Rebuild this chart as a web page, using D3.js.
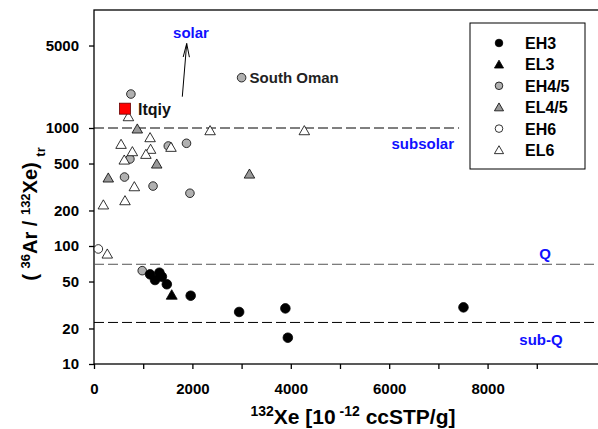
<!DOCTYPE html>
<html>
<head>
<script src="https://cdn.jsdelivr.net/npm/d3@7"></script>
<style>
  body { margin: 0; background: #fff; }
  svg { font-family: "Liberation Sans", Arial, sans-serif; font-weight: bold; }
  .axis path, .axis line { stroke: #000; stroke-width: 1.3; }
  .axis text { font-size: 15px; font-weight: bold; fill: #000; }
</style>
</head>
<body>
<svg width="598" height="429"></svg>
<script>
// data: [132Xe, (36Ar/132Xe)tr]
var eh3 = [[1140, 57.5], [1240, 51.5], [1330, 59.4], [1380, 54.9], [1480, 47.4],
           [1965, 37.9], [2950, 27.6], [3890, 29.6], [3940, 16.7], [7510, 30.2]];
var el3 = [[1580, 38.4]];
var eh45 = [[980, 61.8], [750, 1940], [730, 546], [1510, 704], [1880, 742],
            [620, 384], [1200, 322], [1950, 280]];
var southOman = [3000, 2670];
var el45 = [[880, 981], [1275, 495], [290, 377], [3160, 407]];
var eh6 = [[88, 94.4]];
var el6 = [[700, 1247], [1140, 828], [2360, 949], [4275, 949], [550, 727], [780, 630],
           [1150, 660], [615, 535], [1055, 598], [1565, 686], [820, 318], [630, 242],
           [190, 223], [270, 85.5]];
var itqiy = [630, 1458];

var refLines = [{ name: "subsolar", value: 1000, xEnd: 7420 },
                { name: "Q", value: 70, xEnd: 10300 },
                { name: "sub-Q", value: 22.5, xEnd: 10300 }];

var xTicks = d3.range(0, 10000, 1000);
var yTicks = [10, 20, 50, 100, 200, 500, 1000, 5000];

var legendItems = [
  { label: "EH3", shape: "circle", fill: "#000" },
  { label: "EL3", shape: "triangle", fill: "#000" },
  { label: "EH4/5", shape: "circle", fill: "#b0b0b0" },
  { label: "EL4/5", shape: "triangle", fill: "#999" },
  { label: "EH6", shape: "circle", fill: "#fff" },
  { label: "EL6", shape: "triangle", fill: "#fff" }
];

var svg = d3.select("svg");
var mLeft = 94, mTop = 10, mRight = 600, mBottom = 364;

var x = d3.scaleLinear().domain([0, 10285]).range([mLeft, mRight]);
var y = d3.scaleLog().domain([10, 10000]).range([mBottom, mTop]);

// frame
svg.append("rect")
  .attr("x", mLeft).attr("y", mTop)
  .attr("width", mRight - mLeft).attr("height", mBottom - mTop)
  .attr("fill", "none").attr("stroke", "#000").attr("stroke-width", 1.3);

svg.append("g").attr("class", "axis")
  .attr("transform", "translate(0," + mBottom + ")")
  .call(d3.axisBottom(x).tickValues(xTicks).tickSize(5).tickPadding(14)
    .tickFormat(function(d) { return d % 2000 === 0 ? d : ""; }))
  .call(function(g) { g.select(".domain").remove(); });

svg.append("g").attr("class", "axis")
  .attr("transform", "translate(" + mLeft + ",0)")
  .call(d3.axisLeft(y).tickValues(yTicks).tickSize(5).tickPadding(10)
    .tickFormat(d3.format("d")))
  .call(function(g) { g.select(".domain").remove(); });

// reference lines
svg.selectAll(".ref").data(refLines).enter().append("line")
  .attr("x1", x(0)).attr("x2", function(d) { return x(d.xEnd); })
  .attr("y1", function(d) { return y(d.value); })
  .attr("y2", function(d) { return y(d.value); })
  .attr("stroke", function(d) { return d.name === "Q" ? "#555" : "#000"; })
  .attr("stroke-width", 1)
  .attr("stroke-dasharray", "10,4");

// blue labels
function blue(txt, px, py, anchor) {
  svg.append("text").attr("x", px).attr("y", py).attr("text-anchor", anchor || "middle")
    .attr("fill", "#1010ff").style("font-size", "15px").text(txt);
}
blue("solar", 191, 38);
blue("subsolar", 454, 149, "end");
blue("Q", 545, 259);
blue("sub-Q", 541, 345);

// arrow towards solar
svg.append("line")
  .attr("x1", 182.3).attr("y1", 96.7).attr("x2", 186.7).attr("y2", 43.5)
  .attr("stroke", "#000").attr("stroke-width", 1);
svg.append("path")
  .attr("d", "M183.2,57 L186.7,43.5 L189.4,57.2")
  .attr("fill", "none").attr("stroke", "#000").attr("stroke-width", 1);

var tri = d3.symbol().type(d3.symbolTriangle);

function circles(data, fill, r) {
  svg.append("g").selectAll("circle").data(data).enter().append("circle")
    .attr("cx", function(d) { return x(d[0]); })
    .attr("cy", function(d) { return y(d[1]); })
    .attr("r", r).attr("fill", fill).attr("stroke", "#000").attr("stroke-width", 0.8);
}
function triangles(data, fill, size) {
  svg.append("g").selectAll("path").data(data).enter().append("path")
    .attr("d", tri.size(size)())
    .attr("transform", function(d) { return "translate(" + x(d[0]) + "," + (y(d[1]) + 1) + ")"; })
    .attr("fill", fill).attr("stroke", "#000").attr("stroke-width", 0.8);
}

circles(eh45, "#b0b0b0", 4.3);
circles([southOman], "#b0b0b0", 4.3);
triangles(el45, "#999", 48);
circles(eh6, "#fff", 4.3);
triangles(el6, "#fff", 48);
circles(eh3, "#000", 4.8);
triangles(el3, "#000", 52);

svg.append("rect")
  .attr("x", x(itqiy[0]) - 5.5).attr("y", y(itqiy[1]) - 5.5)
  .attr("width", 11).attr("height", 11)
  .attr("fill", "#f00").attr("stroke", "#600").attr("stroke-width", 0.8);

svg.append("text").attr("x", x(itqiy[0]) + 13).attr("y", y(itqiy[1]) + 6)
  .style("font-size", "16px").attr("fill", "#111").text("Itqiy");
svg.append("text").attr("x", x(southOman[0]) + 8).attr("y", y(southOman[1]) + 5)
  .style("font-size", "15px").attr("fill", "#222").text("South Oman");

// legend
var lg = svg.append("g");
lg.append("rect").attr("x", 470).attr("y", 23).attr("width", 115).attr("height", 146)
  .attr("fill", "#fff").attr("stroke", "#000").attr("stroke-width", 1);
var rows = lg.selectAll("g").data(legendItems).enter().append("g")
  .attr("transform", function(d, i) { return "translate(499," + (43 + i * 21.4) + ")"; });
rows.filter(function(d) { return d.shape === "circle"; }).append("circle")
  .attr("r", 3.8).attr("fill", function(d) { return d.fill; })
  .attr("stroke", "#000").attr("stroke-width", 0.8);
rows.filter(function(d) { return d.shape === "triangle"; }).append("path")
  .attr("d", tri.size(36)()).attr("transform", "translate(0,1)")
  .attr("fill", function(d) { return d.fill; })
  .attr("stroke", "#000").attr("stroke-width", 0.8);
rows.append("text").attr("x", 26).attr("y", 6)
  .style("font-size", "16px").attr("fill", "#000")
  .text(function(d) { return d.label; });

// axis titles
var xt = svg.append("text").attr("x", 353).attr("y", 424).attr("text-anchor", "middle")
  .style("font-size", "21px");
xt.append("tspan").attr("baseline-shift", "super").style("font-size", "14px").text("132");
xt.append("tspan").text("Xe [10");
xt.append("tspan").attr("baseline-shift", "super").style("font-size", "14px").text(" -12");
xt.append("tspan").text(" ccSTP/g]");

var yt = svg.append("text").attr("transform", "translate(37,214) rotate(-90)")
  .attr("text-anchor", "middle").style("font-size", "20px");
yt.append("tspan").text("( ");
yt.append("tspan").attr("baseline-shift", "super").style("font-size", "13px").text("36");
yt.append("tspan").text("Ar / ");
yt.append("tspan").attr("baseline-shift", "super").style("font-size", "13px").text("132");
yt.append("tspan").text("Xe) ");
yt.append("tspan").attr("baseline-shift", "sub").style("font-size", "13px").text("tr");
</script>
</body>
</html>
